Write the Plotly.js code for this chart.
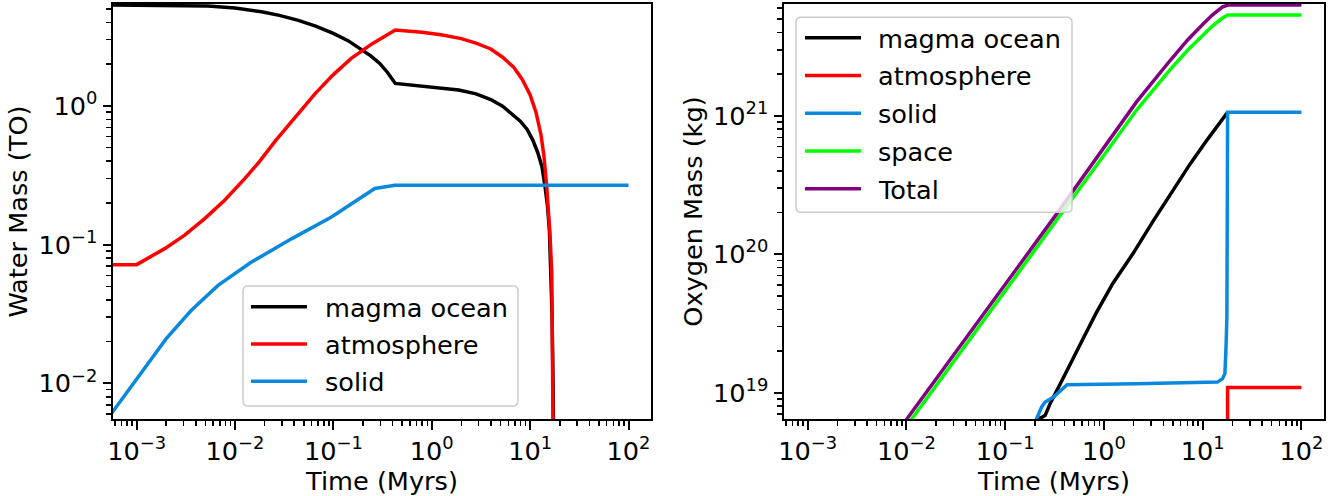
<!DOCTYPE html>
<html>
<head>
<meta charset="utf-8">
<script src="https://cdn.plot.ly/plotly-3.0.1.min.js"></script>
<style>html,body{margin:0;padding:0;background:#fff;}#chart{width:1338px;height:496px;}</style>
</head>
<body>
<div id="chart"></div>
<script>
// ---------- Left panel: Water Mass (TO) ----------
var magmaTimeL = [5.53e-4, 1.58e-3, 5.30e-3, 0.01, 0.0186, 0.0282, 0.0432, 0.0661, 0.0998, 0.141, 0.195, 0.240, 0.296, 0.355, 0.426,
  0.811, 1.88, 2.82, 3.98, 5.25, 6.61, 7.94, 9.33, 10.7, 12.0, 13.2, 14.1, 15.0, 15.7, 16.2, 16.7, 17.1, 17.4];
var magmaWaterL = [5.33, 5.31, 5.24, 5.07, 4.76, 4.49, 4.15, 3.76, 3.33, 2.95, 2.55, 2.29, 2.02, 1.74, 1.45,
  1.39, 1.30, 1.22, 1.11, 0.993, 0.871, 0.776, 0.676, 0.562, 0.457, 0.363, 0.269, 0.191, 0.126, 0.0708, 0.0316, 0.01, 0.0025];

var atmTimeL = [5.53e-4, 0.001, 0.00193, 0.00308, 0.00492, 0.00785, 0.01256, 0.0178, 0.0261, 0.0398, 0.0656, 0.1, 0.152, 0.251, 0.355, 0.426,
  0.794, 1.24, 2.0, 2.86, 3.98, 5.25, 6.76, 8.32, 10.0, 11.5, 12.9, 13.8, 14.7, 15.5, 15.9, 16.6, 16.9, 17.2, 17.4];
var atmWaterL = [0.0717, 0.0717, 0.0935, 0.117, 0.154, 0.209, 0.299, 0.398, 0.566, 0.813, 1.23, 1.68, 2.20, 2.82, 3.24, 3.52,
  3.39, 3.25, 3.05, 2.82, 2.57, 2.24, 1.91, 1.55, 1.20, 0.891, 0.617, 0.437, 0.268, 0.166, 0.12, 0.0618, 0.0228, 0.00556, 0.001];

var solidTimeL = [5.53e-4, 0.00103, 0.0020, 0.0036, 0.00673, 0.0147, 0.0375, 0.0957, 0.264, 0.422, 100];
var solidWaterL = [0.00604, 0.0111, 0.0210, 0.0336, 0.0508, 0.0748, 0.110, 0.158, 0.254, 0.268, 0.268];

// ---------- Right panel: Oxygen Mass (kg) ----------
var magmaTimeR = [0.191, 0.217, 0.234, 0.254, 0.285, 0.316, 0.348, 0.441, 0.604, 0.828, 1.23, 1.97, 3.16, 5.01, 7.53, 11.2, 14.1, 17.9];
var magmaOxyR = [5.62e18, 6.49e18, 6.61e18, 6.85e18, 8.32e18, 9.55e18, 1.10e19, 1.53e19, 2.39e19, 3.72e19, 6.14e19, 1.01e20, 1.74e20, 2.88e20, 4.53e20, 6.76e20, 8.41e20, 1.06e21];

var atmTimeR = [17.9, 17.9, 100];
var atmOxyR = [1e18, 1.09e19, 1.09e19];

var solidTimeR = [0.2, 0.208, 0.234, 0.254, 0.309, 0.424, 2.14, 14.1, 15.9, 16.8, 17.2, 17.6, 17.9, 100];
var solidOxyR = [5.6e18, 6.46e18, 7.87e18, 8.55e18, 9.29e18, 1.14e19, 1.16e19, 1.19e19, 1.26e19, 1.37e19, 2.02e19, 3.5e19, 1.06e21, 1.06e21];

var spaceTimeR = [0.00631, 0.01, 0.0316, 0.1, 0.316, 1, 2.14, 4.68, 7.08, 10, 12.6, 15.8, 17.9, 100];
var spaceOxyR = [3.63e18, 5.69e18, 1.74e19, 5.37e19, 1.66e20, 5.19e20, 1.10e21, 2.16e21, 2.99e21, 3.85e21, 4.47e21, 5.07e21, 5.35e21, 5.35e21];

var totalTimeR = [0.00631, 0.01, 0.0316, 0.1, 0.316, 1, 2.14, 4.68, 7.08, 10, 12.6, 15.8, 17.9, 100];
var totalOxyR = [4.07e18, 6.38e18, 1.95e19, 6.03e19, 1.86e20, 5.89e20, 1.26e21, 2.51e21, 3.55e21, 4.57e21, 5.37e21, 6.10e21, 6.31e21, 6.31e21];

// ---------- Tick labels ----------
var xTickVals = [1e-3, 1e-2, 1e-1, 1, 10, 100];
var xTickText = ['10<sup>\u22123</sup>', '10<sup>\u22122</sup>', '10<sup>\u22121</sup>', '10<sup>0</sup>', '10<sup>1</sup>', '10<sup>2</sup>'];
var yTickValsL = [1e-2, 1e-1, 1];
var yTickTextL = ['10<sup>\u22122</sup>', '10<sup>\u22121</sup>', '10<sup>0</sup>'];
var yTickValsR = [1e19, 1e20, 1e21];
var yTickTextR = ['10<sup>19</sup>', '10<sup>20</sup>', '10<sup>21</sup>'];

var seriesNames = ['magma ocean', 'atmosphere', 'solid', 'space', 'Total'];
var seriesColors = ['#000000', '#ff0000', '#0a88dd', '#00ff00', '#800080'];
var legendLeftItems = [0, 1, 2];
var legendRightItems = [0, 1, 2, 3, 4];

function minorTicks(e0, e1) {
  var out = [];
  for (var e = e0; e <= e1; e++) {
    for (var m = 2; m <= 9; m++) out.push(m * Math.pow(10, e));
  }
  return out;
}

var FONT = 'DejaVu Sans, Verdana, sans-serif';
var FS = 25.6;
var LW = 3.5;

function tr(x, y, i, xa, ya) {
  return {
    x: x, y: y, type: 'scatter', mode: 'lines', name: seriesNames[i],
    line: {color: seriesColors[i], width: LW},
    xaxis: xa, yaxis: ya, showlegend: false
  };
}

var data = [
  tr(magmaTimeL, magmaWaterL, 0, 'x', 'y'),
  tr(atmTimeL, atmWaterL, 1, 'x', 'y'),
  tr(solidTimeL, solidWaterL, 2, 'x', 'y'),
  tr(magmaTimeR, magmaOxyR, 0, 'x2', 'y2'),
  tr(atmTimeR, atmOxyR, 1, 'x2', 'y2'),
  tr(solidTimeR, solidOxyR, 2, 'x2', 'y2'),
  tr(spaceTimeR, spaceOxyR, 3, 'x2', 'y2'),
  tr(totalTimeR, totalOxyR, 4, 'x2', 'y2')
];

function axisBase(extra) {
  var a = {
    type: 'log', showgrid: false, zeroline: false,
    showline: true, linecolor: '#000', linewidth: 2, mirror: true,
    ticks: 'outside', ticklen: 8.5, tickwidth: 2, tickcolor: '#000',
    tickmode: 'array',
    tickfont: {family: FONT, size: FS, color: '#000'},
    minor: {ticks: 'outside', ticklen: 5, tickwidth: 1.5, tickcolor: '#000', tickmode: 'array', showgrid: false}
  };
  for (var k in extra) a[k] = extra[k];
  return a;
}

// ---------- geometry (pixels -> paper) ----------
var M = {l: 113, r: 14, t: 4, b: 77};
var W = 1338, H = 496;
var PW = W - M.l - M.r, PH = H - M.t - M.b;
function px(x) { return (x - M.l) / PW; }
function py(y) { return 1 - (y - M.t) / PH; }

function roundRectPath(x0, y0, x1, y1, r) {
  function P(x, y) { return px(x).toFixed(5) + ',' + py(y).toFixed(5); }
  return 'M' + P(x0 + r, y0) + ' L' + P(x1 - r, y0) + ' Q' + P(x1, y0) + ' ' + P(x1, y0 + r) +
    ' L' + P(x1, y1 - r) + ' Q' + P(x1, y1) + ' ' + P(x1 - r, y1) +
    ' L' + P(x0 + r, y1) + ' Q' + P(x0, y1) + ' ' + P(x0, y1 - r) +
    ' L' + P(x0, y0 + r) + ' Q' + P(x0, y0) + ' ' + P(x0 + r, y0) + ' Z';
}

var shapes = [];
var annotations = [];
function buildLegend(items, box, lineX0, lineX1, textX, rowY0, rowStep) {
  shapes.push({type: 'path', xref: 'paper', yref: 'paper', layer: 'above',
    path: roundRectPath(box[0], box[1], box[2], box[3], 5),
    fillcolor: 'rgba(255,255,255,0.8)', line: {color: '#cccccc', width: 1.5}});
  items.forEach(function (idx, k) {
    var yy = rowY0 + k * rowStep;
    shapes.push({type: 'line', xref: 'paper', yref: 'paper', layer: 'above',
      x0: px(lineX0), x1: px(lineX1), y0: py(yy), y1: py(yy),
      line: {color: seriesColors[idx], width: LW}});
    annotations.push({xref: 'paper', yref: 'paper', x: px(textX), y: py(yy + 1),
      xanchor: 'left', yanchor: 'middle', showarrow: false, text: seriesNames[idx],
      font: {family: FONT, size: FS, color: '#000'}});
  });
}
buildLegend(legendLeftItems, [243, 286, 518, 406], 251, 307, 323, 306.7, 37.3);
buildLegend(legendRightItems, [796, 17.3, 1072, 212.3], 805, 861, 876, 37.7, 37.75);

var xRange = [-3.24, 2.229];
var layout = {
  width: W, height: H,
  margin: M,
  paper_bgcolor: '#fff', plot_bgcolor: '#fff',
  font: {family: FONT, size: FS, color: '#000'},
  showlegend: false,
  xaxis: axisBase({domain: [0, 0.4443], range: xRange, anchor: 'y', tickvals: xTickVals, ticktext: xTickText,
    title: {text: 'Time (Myrs)', font: {family: FONT, size: FS}, standoff: 0}}),
  yaxis: axisBase({domain: [0, 1], range: [-2.257, 0.734], anchor: 'x', tickvals: yTickValsL, ticktext: yTickTextL,
    title: {text: 'Water Mass (TO)', font: {family: FONT, size: FS}, standoff: 3}}),
  xaxis2: axisBase({domain: [0.5541, 1], range: xRange, anchor: 'y2', tickvals: xTickVals, ticktext: xTickText,
    title: {text: 'Time (Myrs)', font: {family: FONT, size: FS}, standoff: 0}}),
  yaxis2: axisBase({domain: [0, 1], range: [18.809, 21.808], anchor: 'x2', tickvals: yTickValsR, ticktext: yTickTextR,
    title: {text: 'Oxygen Mass (kg)', font: {family: FONT, size: FS}, standoff: 3}}),
  shapes: shapes,
  annotations: annotations
};

layout.xaxis.minor.tickvals = minorTicks(-4, 2);
layout.xaxis2.minor.tickvals = minorTicks(-4, 2);
layout.yaxis.minor.tickvals = minorTicks(-3, 0);
layout.yaxis2.minor.tickvals = minorTicks(18, 21);

Plotly.newPlot('chart', data, layout, {displayModeBar: false, staticPlot: true});
</script>
</body>
</html>
